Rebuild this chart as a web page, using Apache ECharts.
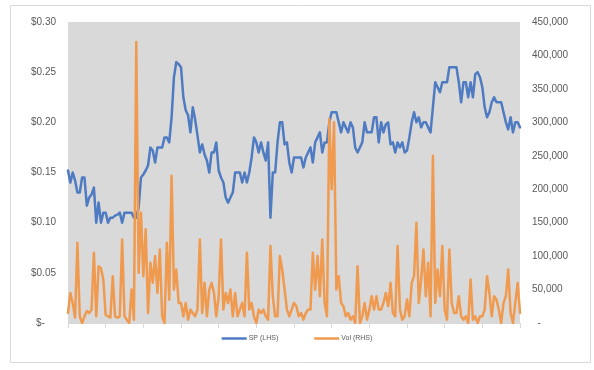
<!DOCTYPE html>
<html>
<head>
<meta charset="utf-8">
<script src="https://cdn.jsdelivr.net/npm/echarts@6/dist/echarts.min.js"></script>
<style>
html,body{margin:0;padding:0;background:#fff;}
#chart{width:594px;height:370px;}
</style>
</head>
<body>
<div id="chart"></div>
<script>
const seriesNames = ['SP (LHS)', 'Vol (RHS)'];
const leftTicks = [0, 0.05, 0.10, 0.15, 0.20, 0.25, 0.30];
const rightTicks = [0, 50000, 100000, 150000, 200000, 250000, 300000, 350000, 400000, 450000];

const sp = [
  0.152,0.140,0.150,0.142,0.130,0.130,0.145,0.145,0.117,0.125,
  0.128,0.135,0.100,0.120,0.100,0.110,0.110,0.100,0.105,0.105,
  0.107,0.108,0.110,0.100,0.110,0.110,0.110,0.110,0.105,0.105,
  0.115,0.145,0.148,0.152,0.157,0.175,0.172,0.160,0.175,0.175,
  0.175,0.185,0.185,0.180,0.205,0.245,0.260,0.258,0.255,0.225,
  0.212,0.207,0.190,0.215,0.203,0.187,0.170,0.178,0.168,0.162,
  0.150,0.170,0.170,0.180,0.152,0.145,0.140,0.125,0.120,0.125,
  0.130,0.150,0.150,0.150,0.140,0.150,0.140,0.150,0.165,0.185,
  0.180,0.170,0.180,0.170,0.162,0.180,0.105,0.150,0.150,0.180,
  0.200,0.200,0.178,0.180,0.160,0.150,0.165,0.165,0.165,0.165,
  0.155,0.165,0.170,0.175,0.160,0.180,0.185,0.190,0.170,0.180,
  0.180,0.200,0.210,0.210,0.210,0.200,0.190,0.200,0.195,0.190,
  0.200,0.195,0.175,0.170,0.175,0.180,0.200,0.190,0.190,0.190,
  0.205,0.205,0.180,0.200,0.190,0.198,0.200,0.178,0.180,0.170,
  0.180,0.175,0.180,0.170,0.172,0.185,0.200,0.210,0.200,0.205,
  0.195,0.200,0.200,0.195,0.190,0.215,0.240,0.235,0.230,0.240,
  0.240,0.240,0.255,0.255,0.255,0.255,0.240,0.220,0.240,0.240,
  0.225,0.240,0.225,0.248,0.250,0.245,0.235,0.215,0.205,0.210,
  0.220,0.225,0.220,0.220,0.220,0.210,0.200,0.193,0.205,0.190,
  0.200,0.200,0.195
];

const vol = [
  15000,45000,30000,8000,120000,10000,0,10000,18000,15000,
  20000,105000,10000,85000,82000,65000,12000,10000,8000,70000,
  10000,8000,10000,125000,10000,5000,0,50000,5000,420000,
  75000,165000,70000,140000,15000,90000,60000,100000,45000,110000,
  10000,0,120000,35000,220000,50000,80000,30000,30000,10000,
  30000,5000,20000,15000,10000,20000,125000,15000,60000,10000,
  50000,60000,45000,10000,40000,125000,20000,45000,30000,50000,
  10000,45000,10000,20000,30000,10000,105000,20000,30000,10000,
  0,20000,15000,20000,10000,5000,115000,40000,10000,10000,
  100000,80000,50000,20000,10000,20000,30000,25000,10000,15000,
  5000,15000,20000,20000,105000,50000,100000,40000,125000,30000,
  10000,305000,200000,300000,50000,70000,30000,25000,10000,15000,
  5000,10000,0,85000,0,10000,30000,5000,20000,40000,
  20000,40000,20000,20000,30000,45000,25000,60000,15000,10000,
  115000,20000,5000,10000,35000,10000,60000,70000,150000,30000,
  65000,110000,40000,90000,10000,250000,30000,80000,40000,115000,
  20000,5000,110000,30000,15000,15000,40000,10000,5000,10000,
  0,65000,5000,10000,0,10000,10000,20000,70000,45000,
  10000,40000,35000,20000,0,30000,40000,80000,15000,0,
  30000,60000,15000
];

const days = sp.map((_, i) => i);

const chart = echarts.init(document.getElementById('chart'), null, {renderer: 'canvas'});
const labelFont = {color: '#595959', fontSize: 10, fontFamily: 'Liberation Sans, Arial, sans-serif'};

chart.setOption({
  animation: false,
  backgroundColor: '#ffffff',
  graphic: [{
    type: 'rect',
    shape: {x: 10.5, y: 5.5, width: 580, height: 357},
    style: {fill: 'none', stroke: '#d9d9d9', lineWidth: 1},
    silent: true,
    z: -1
  }],
  grid: {left: 68, right: 74, top: 22, bottom: 47, show: true, backgroundColor: '#d9d9d9', borderWidth: 0},
  legend: {
    data: seriesNames,
    bottom: 23,
    left: 'center',
    icon: 'rect',
    itemWidth: 25,
    itemHeight: 2.5,
    itemGap: 36,
    textStyle: {color: '#595959', fontSize: 7, fontFamily: 'Liberation Sans, Arial, sans-serif', padding: [0, 0, 0, -3]}
  },
  xAxis: {
    type: 'value',
    min: 0,
    max: days.length - 1,
    interval: 16,
    axisLine: {show: true, lineStyle: {color: '#d9d9d9', width: 1}},
    axisTick: {show: true, length: 5, lineStyle: {color: '#d9d9d9'}},
    axisLabel: {show: false},
    splitLine: {show: false}
  },
  yAxis: [{
    type: 'value',
    min: leftTicks[0],
    max: leftTicks[leftTicks.length - 1],
    interval: 0.05,
    position: 'left',
    axisLine: {show: false},
    axisTick: {show: false},
    splitLine: {show: false},
    axisLabel: Object.assign({}, labelFont, {
      margin: 12,
      formatter: v => v === 0 ? '$-    ' : '$' + v.toFixed(2)
    })
  }, {
    type: 'value',
    min: rightTicks[0],
    max: rightTicks[rightTicks.length - 1],
    interval: 50000,
    position: 'right',
    axisLine: {show: false},
    axisTick: {show: false},
    splitLine: {show: false},
    axisLabel: Object.assign({}, labelFont, {
      margin: 12,
      formatter: v => v === 0 ? '  -' : v.toLocaleString('en-US')
    })
  }],
  series: [{
    name: seriesNames[0],
    type: 'line',
    yAxisIndex: 0,
    data: days.map(i => [i, sp[i]]),
    showSymbol: false,
    color: '#4e7bc1',
    lineStyle: {width: 2.5, color: '#4e7bc1', cap: 'round', join: 'round'}
  }, {
    name: seriesNames[1],
    type: 'line',
    yAxisIndex: 1,
    data: days.map(i => [i, vol[i]]),
    showSymbol: false,
    color: '#ef9a4f',
    lineStyle: {width: 2.5, color: '#ef9a4f', cap: 'round', join: 'round'}
  }]
});
</script>
</body>
</html>
